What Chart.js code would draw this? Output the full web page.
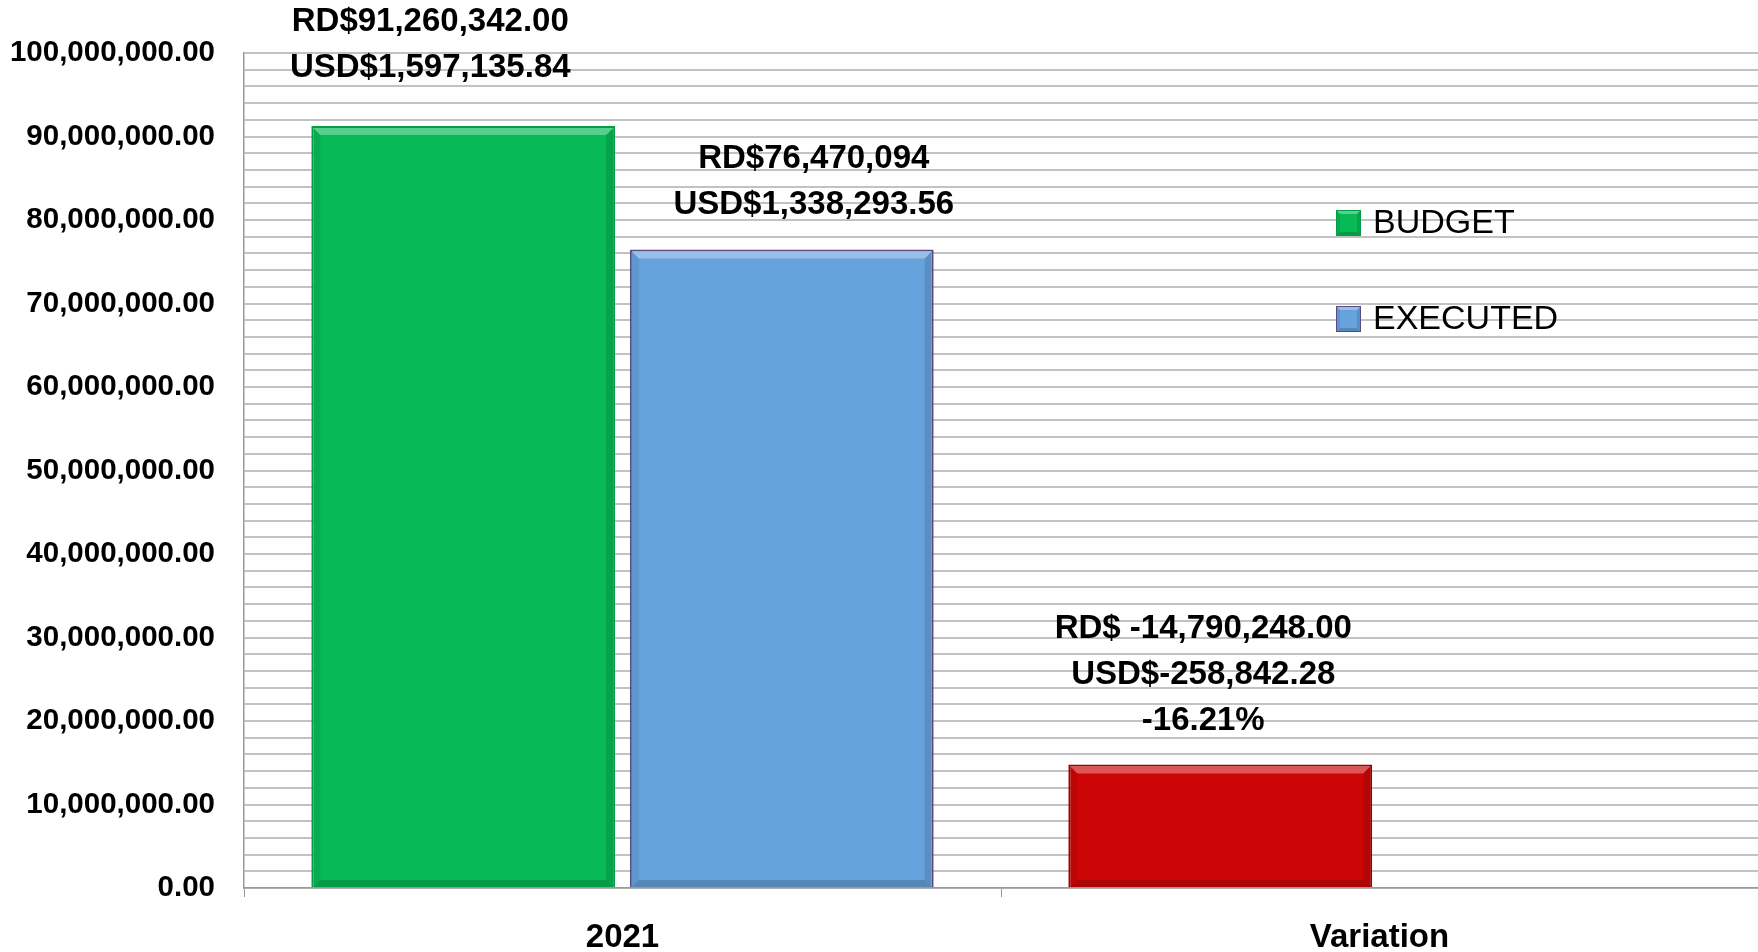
<!DOCTYPE html>
<html>
<head>
<meta charset="utf-8">
<script src="https://cdn.jsdelivr.net/npm/chart.js@4.4.0/dist/chart.umd.min.js"></script>
<style>
  html, body { margin: 0; padding: 0; background: #fff; }
  #wrap { width: 1758px; height: 952px; position: relative; }
</style>
</head>
<body>
<div id="wrap"><canvas id="myChart"></canvas></div>
<script>
// data
const categories = ['2021', 'Variation'];
const budget = [91260342, 14790248];   // 2nd value = variation bar (drawn red)
const executed = [76470094, null];
const budgetLabels = [
    ['RD$91,260,342.00', 'USD$1,597,135.84'],
    ['RD$ -14,790,248.00', 'USD$-258,842.28', '-16.21%']
];
const executedLabels = [
    ['RD$76,470,094', 'USD$1,338,293.56'],
    null
];
const yMin = 0;
const yMax = 100000000;
const yMajor = 10000000;
const yMinor = 2000000;

const FONT = "'Liberation Sans', Arial, sans-serif";

// labels above bars: x shift from bar centre, gap above bar top
const labelShift = [[-33, -17], [32, 0]];
const labelGap = [[58, 44], [45, 0]];
const lineH = 46;

// little bevel like the office 3d bars
function bevel(ctx, x0, y0, x1, y1, d) {
    function quad(pts, fill) {
        ctx.beginPath();
        ctx.moveTo(pts[0][0], pts[0][1]);
        for (let i = 1; i < pts.length; i++) ctx.lineTo(pts[i][0], pts[i][1]);
        ctx.closePath();
        ctx.fillStyle = fill;
        ctx.fill();
    }
    quad([[x0, y0], [x1, y0], [x1 - d, y0 + d], [x0 + d, y0 + d]], 'rgba(255,255,255,0.32)');
    quad([[x0, y0], [x0 + d, y0 + d], [x0 + d, y1 - d], [x0, y1]], 'rgba(0,0,0,0.07)');
    quad([[x1, y0], [x1, y1], [x1 - d, y1 - d], [x1 - d, y0 + d]], 'rgba(0,0,0,0.12)');
    quad([[x0, y1], [x0 + d, y1 - d], [x1 - d, y1 - d], [x1, y1]], 'rgba(0,0,0,0.16)');
}

const barBevel = {
    id: 'barBevel',
    afterDatasetsDraw(chart) {
        const ctx = chart.ctx;
        ctx.save();
        chart.data.datasets.forEach(function(ds, di) {
            chart.getDatasetMeta(di).data.forEach(function(bar, i) {
                if (ds.data[i] == null) return;
                const p = bar.getProps(['x', 'y', 'base', 'width'], true);
                const bw = ds.borderWidth || 0;
                bevel(ctx, p.x - p.width / 2 + bw, p.y + bw, p.x + p.width / 2 - bw, p.base, 7);
            });
        });
        ctx.restore();
    }
};

const barLabels = {
    id: 'barLabels',
    afterDatasetsDraw(chart) {
        const ctx = chart.ctx;
        const all = [budgetLabels, executedLabels];
        ctx.save();
        ctx.font = 'bold 33px ' + FONT;
        ctx.fillStyle = '#000';
        ctx.textAlign = 'center';
        ctx.textBaseline = 'middle';
        chart.data.datasets.forEach(function(ds, di) {
            const meta = chart.getDatasetMeta(di);
            meta.data.forEach(function(bar, i) {
                const lines = all[di][i];
                if (!lines) return;
                const x = bar.x + labelShift[di][i];
                const bottom = bar.y - labelGap[di][i];
                for (let k = 0; k < lines.length; k++) {
                    ctx.fillText(lines[k], x, bottom - (lines.length - 1 - k) * lineH);
                }
            });
        });
        ctx.restore();
    }
};

// legend sitting inside the plot on the right
const sideLegend = {
    id: 'sideLegend',
    afterDraw(chart) {
        const ctx = chart.ctx;
        const ys = [223, 319];
        ctx.save();
        ctx.font = '34px ' + FONT;
        ctx.textBaseline = 'middle';
        chart.data.datasets.forEach(function(ds, di) {
            const cy = ys[di];
            const c = Array.isArray(ds.backgroundColor) ? ds.backgroundColor[0] : ds.backgroundColor;
            const b = Array.isArray(ds.borderColor) ? ds.borderColor[0] : ds.borderColor;
            ctx.fillStyle = c;
            ctx.fillRect(1336, cy - 13, 25, 26);
            bevel(ctx, 1336, cy - 13, 1361, cy + 13, 4);
            ctx.strokeStyle = b;
            ctx.lineWidth = 1;
            ctx.strokeRect(1336.5, cy - 12.5, 24, 25);
            ctx.fillStyle = '#000';
            ctx.fillText(ds.label, 1373, cy + 1);
        });
        ctx.restore();
    }
};

const ctx = document.getElementById('myChart');
const myChart = new Chart(ctx, {
    type: 'bar',
    data: {
        labels: categories,
        datasets: [{
            label: 'BUDGET',
            data: budget,
            backgroundColor: ['#07BA55', '#CC0606'],
            borderColor: ['#079a48', '#9a0000'],
            borderWidth: 2
        }, {
            label: 'EXECUTED',
            data: executed,
            backgroundColor: '#66A3DD',
            borderColor: '#5b4a80',
            borderWidth: 2
        }]
    },
    options: {
        responsive: true,
        maintainAspectRatio: false,
        animation: false,
        categoryPercentage: 0.8415,
        barPercentage: 0.954,
        layout: { padding: { top: 53, right: 0, left: 0, bottom: 0 } },
        plugins: {
            legend: { display: false },
            tooltip: { enabled: false }
        },
        scales: {
            x: {
                grid: { drawOnChartArea: false, drawTicks: true, tickLength: 9, color: '#999' },
                border: { color: '#999', width: 1.5 },
                ticks: {
                    color: '#000',
                    font: { family: FONT, size: 33, weight: 'bold' },
                    padding: 21
                },
                afterFit(scale) { scale.height = 64; }
            },
            y: {
                min: yMin,
                max: yMax,
                grid: { color: '#c2c2c2', lineWidth: 2, drawTicks: false },
                border: { color: '#999', width: 1.5 },
                ticks: {
                    stepSize: yMinor,
                    autoSkip: false,
                    padding: 29,
                    color: '#000',
                    font: { family: FONT, size: 29.5, weight: 'bold' },
                    callback: function(v) {
                        if (v % yMajor !== 0) return '';
                        return v.toLocaleString('en-US', { minimumFractionDigits: 2, maximumFractionDigits: 2 });
                    }
                },
                afterFit(scale) { scale.width = 244; }
            }
        }
    },
    plugins: [barBevel, barLabels, sideLegend]
});
</script>
</body>
</html>
